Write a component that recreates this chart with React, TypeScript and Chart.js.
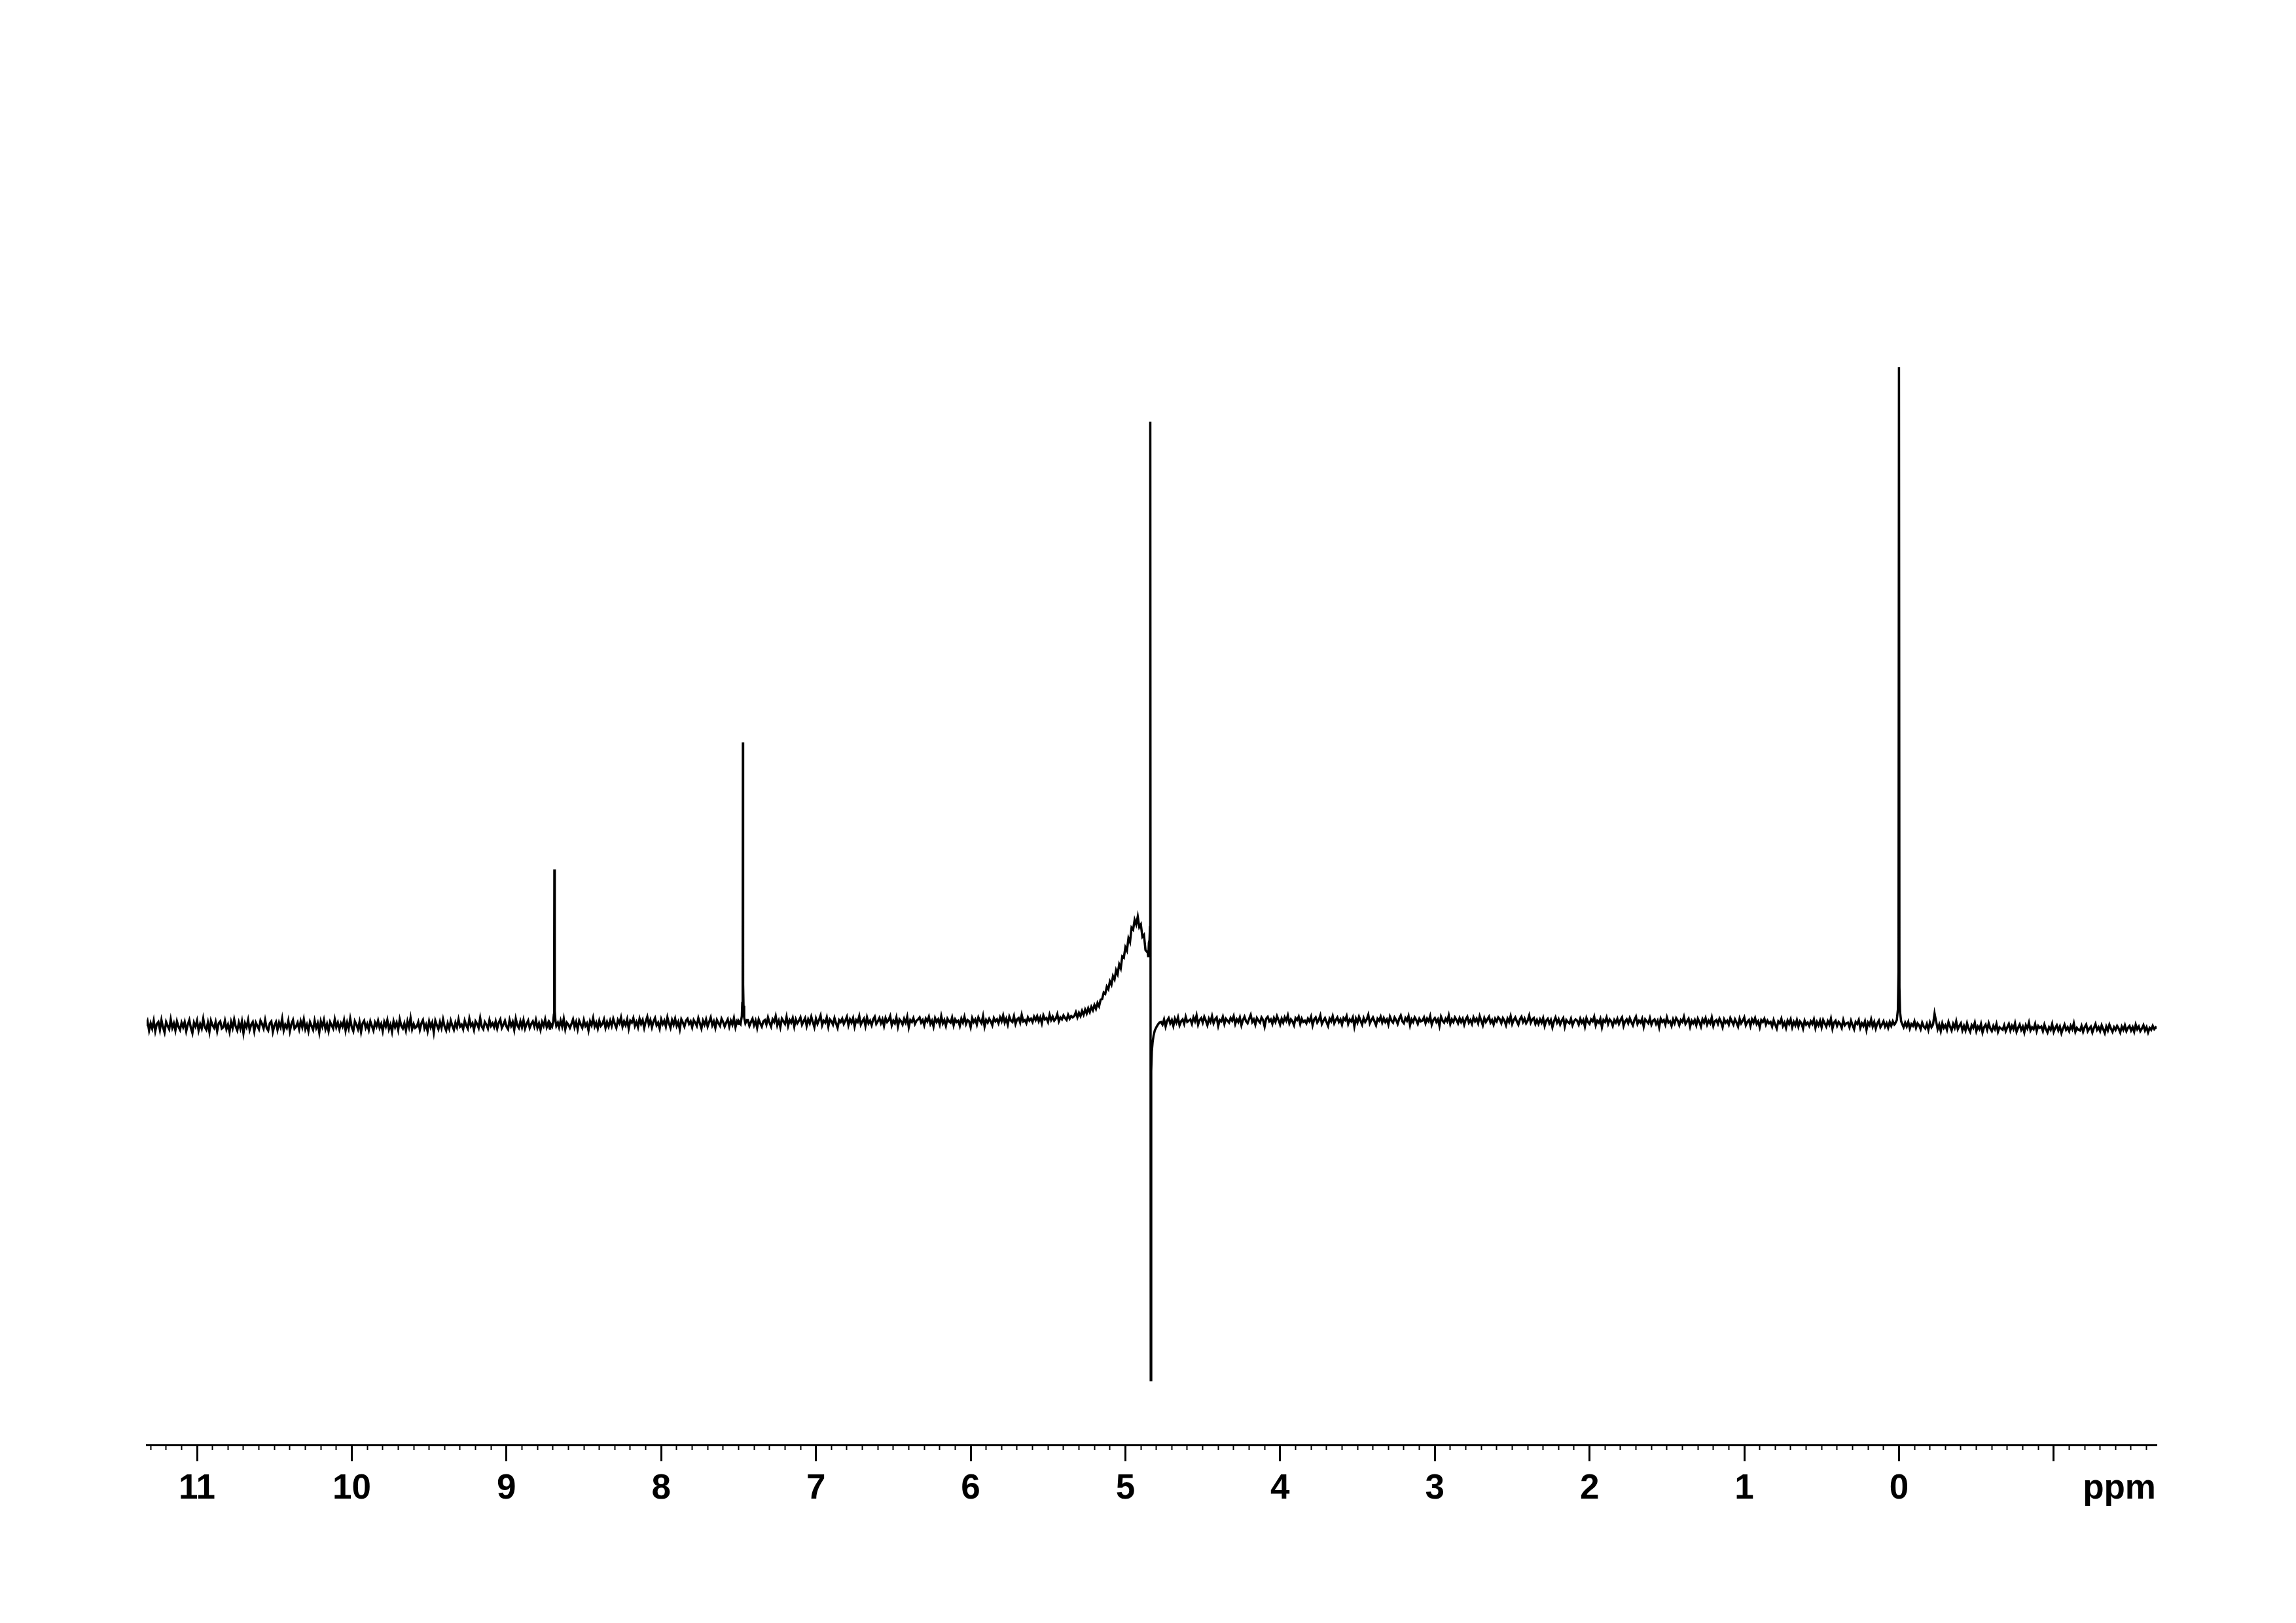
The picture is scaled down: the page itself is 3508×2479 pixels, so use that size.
import React, { useEffect, useRef } from 'react';
import { Chart, registerables } from 'chart.js';

Chart.register(...registerables);

// ---- axis range (ppm, reversed as usual for NMR) ----
const X_MAX_PPM = 11.326;
const X_MIN_PPM = -1.665;
const Y_MIN = -641;
const Y_MAX = 1266;

// ---- tick labels ----
const labelledTicks = [11, 10, 9, 8, 7, 6, 5, 4, 3, 2, 1, 0];
const unitLabel = 'ppm';

// ---- baseline trace, sampled every 0.01 ppm from 11.33 ppm downwards (one row = 0.25 ppm) ----
const GRID_START_PPM = 11.33;
const GRID_STEP_PPM = 0.01;
const baselineTrace = [
  -1, 6, -8, 3, -5, 7, -9, 2, 5, -7, 8, -3, -11, 5, -1, -6, 9, -4, 3, -8, 6, -2, -7, 4, -3,
  5, -9, 1, 8, -4, -12, 4, -2, 7, -8, 2, -5, 10, -3, -7, 4, -10, 7, 0, -4, 5, -9, 3, 6, -5,
  -3, 7, -6, 1, -10, 5, -4, 9, -2, -8, 4, -5, 6, -12, 3, -3, 8, -7, 1, 5, -9, 4, -1, -6, 7,
  2, -5, 8, -4, -8, 3, 6, -10, 0, 5, -7, 4, -3, 10, -8, 1, -4, 7, -9, 2, 8, -5, -2, 4, -6,
  6, -3, 9, -6, 1, -9, 5, -1, -7, 7, -4, 3, -11, 6, -2, 8, -6, 2, -9, 5, 0, -5, 9, -3, 4,
  -6, 3, -2, 8, -8, 4, -5, 10, -3, -9, 6, 1, -6, 5, -10, 3, 7, -4, 2, -7, 6, -1, -8, 4, -2,
  7, -4, 2, -9, 5, -2, 8, -6, 1, -10, 6, -3, 4, -7, 9, -1, -5, 3, -8, 6, -3, 11, -6, 2, -4,
  -2, 5, -7, 3, 8, -5, 1, -9, 6, -3, 4, -11, 7, 0, -6, 5, -4, 9, -2, -8, 3, -5, 7, -1, -7,
  4, -3, 9, -2, 1, -6, 7, 0, -5, 10, -1, 3, -7, 6, 2, -4, 11, -2, -6, 5, 1, -5, 8, -1, 3,
  -3, 6, -5, 4, 9, -4, 1, 7, -2, -6, 8, -1, 5, -7, 10, 0, -4, 6, -3, 8, -5, 2, 7, -4, 2,
  6, -2, 8, -4, 3, -7, 5, -1, 9, -3, 4, -5, 0, 0, 0, 0, 0, -3, 7, -2, 10, -6, 4, 1, -4,
  2, 9, -3, 5, -6, 7, 1, -4, 8, -1, 3, -8, 6, 0, 11, -2, 4, -5, 7, -1, 2, 9, -4, 5, -2,
  7, -1, 10, 2, -4, 8, 3, 12, -2, 6, 0, 9, -5, 7, 4, 11, -1, 5, -3, 10, 2, 8, -4, 6, 13,
  1, 8, -3, 6, 11, 0, 4, -5, 9, 2, 7, -2, 12, 3, -4, 8, 1, 10, -1, 5, -6, 9, 4, -2, 7,
  10, 2, 6, -3, 8, 4, -1, 11, 3, -5, 7, 1, 9, -2, 5, 12, 0, 6, -4, 8, 3, -1, 10, 5, -2,
  4, 9, -2, 7, 1, 11, -3, 6, 2, 0, 0, 0, 0, 0, 8, -1, 5, 10, 0, 7, -4, 9, 3, -2, 6,
  8, 1, 12, 4, -2, 9, 5, 14, 0, 7, -3, 10, 6, 2, 13, -1, 8, 4, 11, -2, 9, 3, 7, 12, 1,
  6, 11, -1, 9, 3, 13, 5, -3, 10, 2, 8, 15, 0, 7, 4, 12, -2, 9, 6, 1, 11, 3, -4, 8, 5,
  10, 2, 7, 13, 0, 9, 4, 11, -2, 8, 5, 14, 1, 6, 10, -1, 12, 3, 7, 0, 9, 13, 2, 6, 11,
  3, 9, -1, 11, 5, 8, 14, 0, 7, 3, 12, -2, 9, 6, 1, 10, 4, 13, -3, 8, 5, 11, 2, 7, 9,
  12, 4, 8, 0, 10, 6, 13, 2, 7, -2, 11, 5, 9, 1, 14, 3, 8, -1, 10, 6, 4, 12, 0, 9, 5,
  7, -1, 10, 4, 13, 2, 8, 6, -3, 11, 5, 9, 1, 12, 7, 3, 14, -2, 8, 4, 10, 6, 0, 11, 6,
  9, 3, 12, 6, 15, 4, 10, 1, 13, 7, 5, 14, 2, 9, 11, 4, 16, 6, 8, 3, 12, 7, 10, 5, 13,
  8, 14, 6, 12, 3, 15, 9, 11, 5, 16, 8, 13, 7, 10, 17, 6, 12, 9, 15, 11, 8, 16, 10, 14, 12,
  14, 20, 12, 19, 14, 22, 16, 24, 18, 26, 20, 28, 23, 31, 25, 34, 29, 39, 40, 50, 48, 59, 55, 67, 62,
  75, 70, 84, 78, 93, 87, 105, 103, 119, 114, 133, 127, 149, 146, 161, 154, 166, 150, 154, 135, 138, 115, 112, 0, 0,
  0, 0, 0, 0, 0, 0, 5, 1, 9, -2, 7, 11, 3, 8, -1, 10, 4, 12, 0, 6, 9, 2, 13, 5, 7,
  9, 2, 12, 6, 15, 1, 8, 11, 4, 13, 7, 0, 10, 5, 14, 3, 9, 12, -1, 8, 6, 13, 2, 10, 7,
  4, 11, 7, 14, 2, 9, 5, 12, 0, 8, 13, 6, 3, 10, 16, 5, 9, 1, 11, 7, 4, 12, 8, -2, 10,
  13, 6, 9, 2, 11, 5, 14, 8, 1, 10, 4, 12, 7, 15, 3, 9, 6, 0, 11, 8, 13, 2, 10, 5, 7,
  3, 10, 6, 13, 0, 9, 12, 4, 8, 15, 2, 7, 11, 5, -1, 10, 6, 14, 3, 8, 12, 5, 9, 1, 11,
  8, 14, 2, 9, 6, 12, -2, 10, 4, 13, 7, 1, 11, 5, 9, 16, 3, 8, 12, 6, 0, 10, 7, 13, 4,
  11, 5, 9, 1, 13, 7, 4, 12, 8, 2, 10, 15, 6, 3, 11, 7, 14, 0, 9, 5, 12, 8, 2, 10, 6,
  7, 12, 3, 10, 6, 14, 1, 8, 11, 5, 9, -1, 13, 7, 4, 10, 6, 15, 2, 9, 5, 12, 8, 3, 11,
  5, 10, 1, 9, 13, 4, 8, 2, 12, 6, 10, 3, 14, 7, 0, 11, 5, 9, 13, 4, 8, 1, 10, 6, 12,
  9, 3, 11, 7, 0, 10, 5, 14, 2, 8, 12, 6, 1, 9, 13, 5, 10, 3, 7, 15, 4, 9, 11, 2, 8,
  2, 9, 4, 11, -1, 7, 10, 3, 8, -3, 6, 12, 4, 9, 1, 7, 11, -2, 8, 5, 3, 10, 0, 6, 9,
  7, 1, 10, 4, 8, -2, 11, 5, 2, 9, 6, 13, 0, 7, 4, 10, -3, 8, 5, 12, 2, 9, 6, -1, 8,
  4, 10, 2, 8, 12, -1, 6, 9, 3, 11, 5, 0, 8, 13, 2, 7, 4, 10, -2, 9, 6, 3, 11, 1, 7,
  9, 2, 7, -3, 10, 5, 8, 1, 12, 4, 6, -1, 9, 3, 11, 7, 0, 8, 5, 13, 2, 6, 10, -2, 7,
  3, 8, 0, 10, 5, -2, 9, 4, 11, 1, 7, 3, 12, -1, 6, 8, 2, 10, 5, -3, 9, 4, 7, 1, 11,
  6, 1, 9, 4, -2, 10, 3, 7, 12, 0, 5, 8, -1, 9, 4, 11, 2, 6, -3, 8, 5, 10, 1, 7, 3,
  5, -2, 8, 1, -5, 6, 3, 10, -1, 4, -4, 7, 2, 9, -3, 5, 0, 8, -2, 6, 3, -5, 7, 1, 4,
  -1, 6, 2, 9, -4, 5, 0, 7, -3, 8, 3, -2, 6, 1, 10, -5, 4, 7, -1, 5, 2, -4, 8, 0, 3,
  4, -3, 7, 0, -6, 5, 2, 8, -4, 3, -1, 6, -7, 4, 0, 9, -2, 5, -5, 3, 7, -3, 1, 6, -2,
  3, -4, 5, -1, 6, 1, 0, 0, 0, 0, 0, -3, 4, -2, 5, -5, 2, -1, 6, -4, 3, 0, -6, 4, -2,
  -5, 2, -7, 4, -3, 1, 18, 6, -6, 1, -9, 3, -4, 0, -7, 5, -2, -8, 2, -4, 6, -6, -1, 3, -8,
  -1, -8, 3, -5, -10, 0, -4, 4, -9, -2, -6, 2, -11, -3, 1, -7, 3, -5, -9, -1, -6, 2, -10, -3, -5,
  -7, 0, -9, -3, 2, -8, -1, -6, 3, -10, -4, 1, -7, -2, -11, 0, -5, 4, -8, -3, -6, 2, -9, -1, -4,
  -2, -9, 1, -6, -11, -3, -7, 2, -10, -4, 0, -8, -2, -12, -5, 1, -7, -3, -9, -1, -6, 3, -10, -4, -7,
  -8, -1, -10, -3, 1, -9, -5, -2, -11, -4, 2, -7, -3, -9, 0, -6, -12, -2, -8, 1, -5, -10, -3, -7, -1,
  -5, -11, -2, -7, 0, -9, -4, -1, -8, -3, -10, 1, -6, -2, -9, -5, 0, -8, -3, -11, -4, -7, -1, -6, -3,
  -5,
];

// ---- sharp signals (ppm / intensity), replacing the baseline samples inside their windows ----
const peak869Ppm = [8.718, 8.705, 8.698, 8.694, 8.692, 8.6905, 8.689, 8.687, 8.684, 8.678, 8.668];
const peak869Int = [3, -2, 6, 16, 44, 238, 52, 22, 8, -1, 4];

const peak747Ppm = [7.498, 7.487, 7.479, 7.476, 7.4735, 7.472, 7.4705, 7.468, 7.464, 7.456, 7.446];
const peak747Int = [6, 2, 14, 34, 78, 432, 62, 30, 12, 3, 8];

const peak484Ppm = [4.856, 4.852, 4.848, 4.844, 4.841, 4.839, 4.836, 4.833, 4.829, 4.824, 4.818, 4.81, 4.8, 4.79, 4.78];
const peak484Int = [112, 104, 126, 130, 150, 922, -542, -70, -40, -26, -16, -8, -3, 1, 4];

const peak000Ppm = [0.026, 0.014, 0.007, 0.003, 0.0, -0.003, -0.007, -0.014, -0.026];
const peak000Int = [2, 8, 24, 82, 1005, 58, 20, 6, -1];

const peakWindows: [number, number][] = [
  [8.72, 8.66],
  [7.5, 7.44],
  [4.858, 4.772],
  [0.028, -0.028],
];

function buildTrace() {
  const pts: { x: number; y: number }[] = [];
  baselineTrace.forEach((v, i) => {
    const x = +(GRID_START_PPM - i * GRID_STEP_PPM).toFixed(4);
    if (peakWindows.some(([hi, lo]) => x < hi && x > lo)) return;
    pts.push({ x, y: v });
  });
  const peaks: [number[], number[]][] = [
    [peak869Ppm, peak869Int],
    [peak747Ppm, peak747Int],
    [peak484Ppm, peak484Int],
    [peak000Ppm, peak000Int],
  ];
  peaks.forEach(([ppm, inten]) => ppm.forEach((p, k) => pts.push({ x: p, y: inten[k] })));
  pts.sort((a, b) => b.x - a.x);
  return pts;
}

const FONT_FAMILY = '"Liberation Sans", Arial, Helvetica, sans-serif';
const LABEL_SIZE = 53;
const MAJOR_TICK_LEN = 25;
const LABEL_PAD = 11;

const unitPlugin = {
  id: 'unitLabel',
  afterDraw(chart: any) {
    const sc = chart.scales.x;
    const ctx = chart.ctx;
    ctx.save();
    ctx.font = `bold ${LABEL_SIZE}px ${FONT_FAMILY}`;
    ctx.fillStyle = '#000';
    ctx.textAlign = 'right';
    ctx.textBaseline = 'middle';
    ctx.fillText(unitLabel, chart.chartArea.right - 1, sc.top + MAJOR_TICK_LEN + LABEL_PAD + (LABEL_SIZE * 1.2) / 2);
    ctx.restore();
  },
};

export default function App() {
  const canvasRef = useRef<HTMLCanvasElement | null>(null);

  useEffect(() => {
    const canvas = canvasRef.current;
    if (!canvas) return;
    const chart = new Chart(canvas, {
      type: 'line',
      data: {
        datasets: [
          {
            data: buildTrace(),
            borderColor: '#000',
            borderWidth: 3.5,
            pointRadius: 0,
            fill: false,
            tension: 0,
            xAxisID: 'x',
            yAxisID: 'y',
          },
        ],
      },
      options: {
        animation: false,
        responsive: false,
        devicePixelRatio: 1,
        parsing: false,
        normalized: true,
        events: [],
        layout: { padding: { left: 224, right: 213, top: 300, bottom: 172 } },
        plugins: { legend: { display: false }, tooltip: { enabled: false }, title: { display: false } },
        scales: {
          xMinor: {
            axis: 'x',
            type: 'linear',
            position: 'bottom',
            weight: 0,
            reverse: true,
            min: X_MIN_PPM,
            max: X_MAX_PPM,
            afterFit: (s: any) => {
              s.height = 0;
            },
            border: { display: true, color: '#000', width: 3 },
            grid: { drawOnChartArea: false, drawTicks: true, tickLength: 8, tickWidth: 2, tickColor: '#000' },
            ticks: { stepSize: 0.1, includeBounds: false, autoSkip: false, display: false, maxRotation: 0 },
          },
          x: {
            type: 'linear',
            position: 'bottom',
            weight: 1,
            reverse: true,
            min: X_MIN_PPM,
            max: X_MAX_PPM,
            afterFit: (s: any) => {
              s.height = 100;
            },
            border: { display: true, color: '#000', width: 3 },
            grid: {
              drawOnChartArea: false,
              drawTicks: true,
              tickLength: MAJOR_TICK_LEN,
              tickWidth: 3,
              tickColor: '#000',
            },
            ticks: {
              stepSize: 1,
              includeBounds: false,
              autoSkip: false,
              maxRotation: 0,
              minRotation: 0,
              padding: LABEL_PAD,
              color: '#000',
              font: { family: FONT_FAMILY, size: LABEL_SIZE, weight: 'bold' },
              callback: (v: any) =>
                labelledTicks.includes(Math.round(Number(v) * 1000) / 1000) ? String(Math.round(Number(v))) : '',
            },
          },
          y: {
            type: 'linear',
            display: false,
            min: Y_MIN,
            max: Y_MAX,
          },
        },
      } as any,
      plugins: [unitPlugin],
    });
    return () => chart.destroy();
  }, []);

  return (
    <div style={{ position: 'absolute', left: 0, top: 0, width: 3508, height: 2479, background: '#fff' }}>
      <canvas ref={canvasRef} width={3508} height={2479} style={{ display: 'block' }} />
    </div>
  );
}
